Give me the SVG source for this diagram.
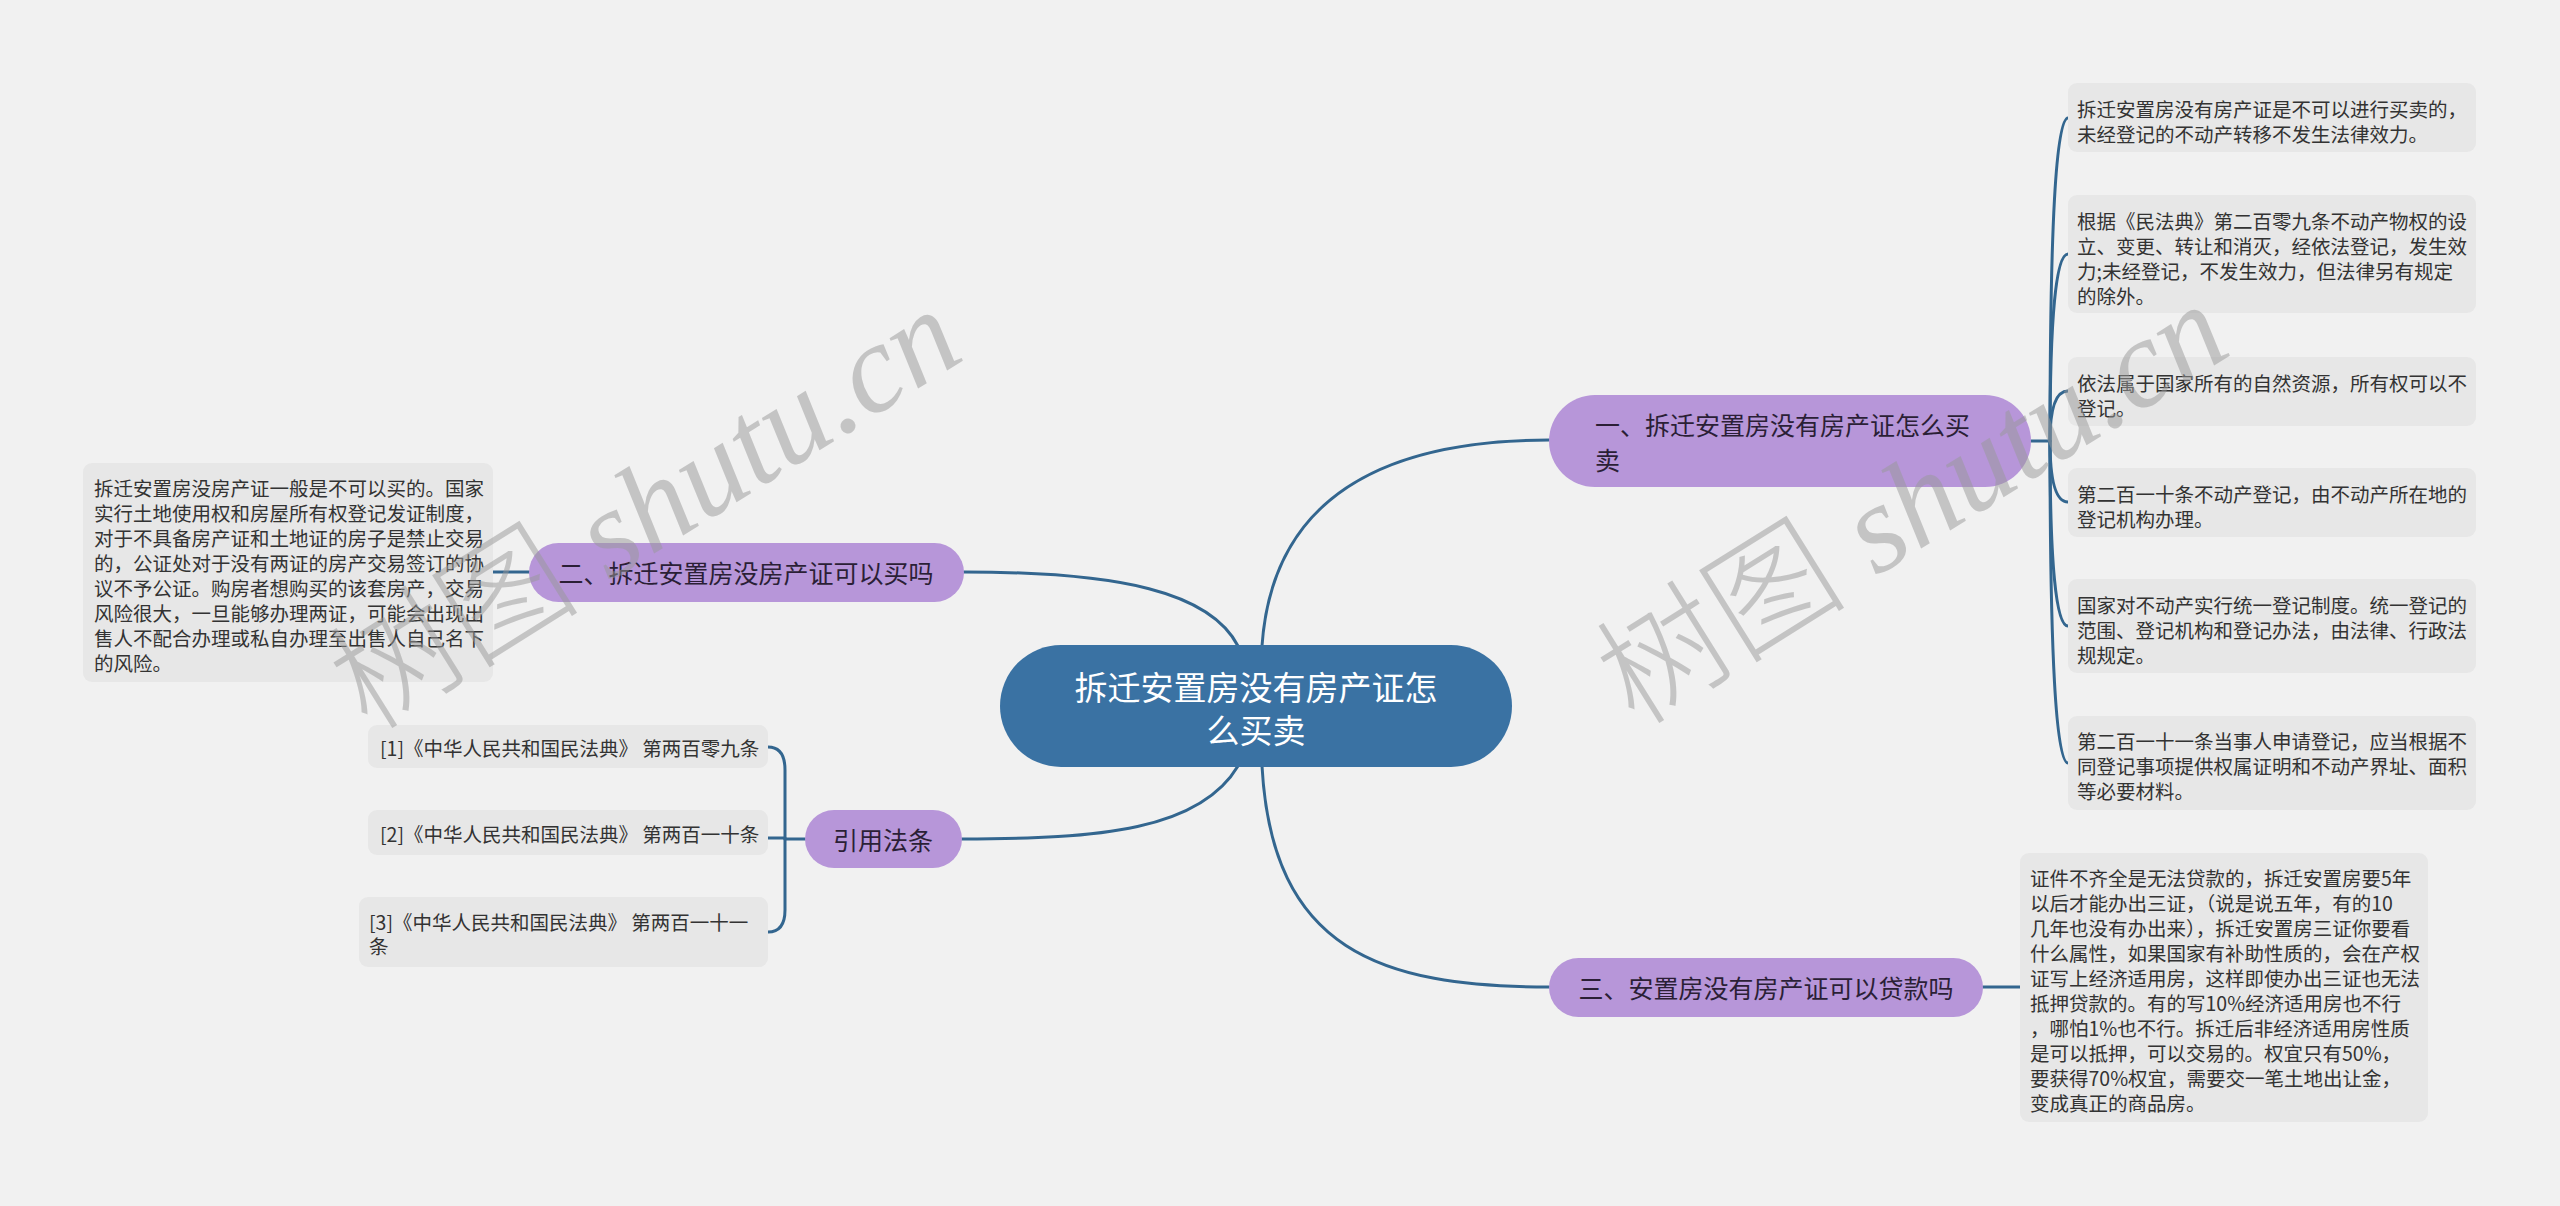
<svg xmlns="http://www.w3.org/2000/svg" width="2560" height="1206" viewBox="0 0 2560 1206">
<style>
.bg{fill:#f1f1f1}
.box{fill:#e7e7e7}
.sub{fill:#b796d9}
.root{fill:#3a72a3}
.conn path{fill:none;stroke:#33668f;stroke-width:3;stroke-linecap:round}
text{font-family:"Noto Sans CJK SC","Noto Sans",sans-serif}
.t{font-size:19.5px;fill:#333;dominant-baseline:central}
.st{font-size:25px;fill:#2b1f36;dominant-baseline:central}
.rt{font-size:33px;fill:#ffffff;dominant-baseline:central;text-anchor:middle}
.wm{font-size:126px;fill:#999;opacity:0.5;text-anchor:middle}
</style>
<rect class="bg" x="0" y="0" width="2560" height="1206"/>
<g id="connectors" class="conn">
<path d="M1262,646 C1272,500 1380,440 1549,440"/>
<path d="M1238,646 C1210,592 1120,572 964,572"/>
<path d="M1238,766 C1200,830 1100,839 962,839"/>
<path d="M1262,766 C1272,950 1380,987 1549,987"/>
<path d="M2031,441 L2050,441"/>
<path d="M2050,441 Q2050,118 2068,118"/>
<path d="M2050,441 Q2050,254 2068,254"/>
<path d="M2050,441 Q2050,391 2068,391"/>
<path d="M2050,441 Q2050,502 2068,502"/>
<path d="M2050,441 Q2050,626 2068,626"/>
<path d="M2050,441 Q2050,763 2068,763"/>
<path d="M529,572 L493,572"/>
<path d="M1983,987 L2020,987"/>
<path d="M805,839 L785,839"/>
<path d="M768,838 L785,838"/>
<path d="M785,839 L785,770 Q785,747 768,747"/>
<path d="M785,839 L785,910 Q785,932 768,932"/>
</g>
<g id="root">
<rect class="root" x="1000" y="645" width="512" height="122" rx="61"/>
<text class="rt" x="1256" y="686">拆迁安置房没有房产证怎</text>
<text class="rt" x="1256" y="729">么买卖</text>
</g>
<g id="n1">
<rect class="sub" x="1549" y="395" width="482" height="92" rx="46"/>
<text class="st" x="1595" y="424">一、拆迁安置房没有房产证怎么买</text>
<text class="st" x="1595" y="459">卖</text>
</g>
<g id="n2">
<rect class="sub" x="529" y="543" width="435" height="59" rx="29.5"/>
<text class="st" x="746" y="572" text-anchor="middle">二、拆迁安置房没房产证可以买吗</text>
</g>
<g id="n3">
<rect class="sub" x="1549" y="958" width="434" height="59" rx="29.5"/>
<text class="st" x="1766" y="987" text-anchor="middle">三、安置房没有房产证可以贷款吗</text>
</g>
<g id="n4">
<rect class="sub" x="805" y="810" width="157" height="58" rx="29"/>
<text class="st" x="883" y="839" text-anchor="middle">引用法条</text>
</g>
<g id="a1">
<rect class="box" x="2068" y="83" width="408" height="69" rx="9"/>
<text class="t" x="2077"><tspan x="2077" y="108">拆迁安置房没有房产证是不可以进行买卖的，</tspan><tspan x="2077" y="133">未经登记的不动产转移不发生法律效力。</tspan></text>
</g>
<g id="a2">
<rect class="box" x="2068" y="195" width="408" height="118" rx="9"/>
<text class="t"><tspan x="2077" y="220">根据《民法典》第二百零九条不动产物权的设</tspan><tspan x="2077" y="245">立、变更、转让和消灭，经依法登记，发生效</tspan><tspan x="2077" y="270">力;未经登记，不发生效力，但法律另有规定</tspan><tspan x="2077" y="295">的除外。</tspan></text>
</g>
<g id="a3">
<rect class="box" x="2068" y="357" width="408" height="69" rx="9"/>
<text class="t"><tspan x="2077" y="382">依法属于国家所有的自然资源，所有权可以不</tspan><tspan x="2077" y="407">登记。</tspan></text>
</g>
<g id="a4">
<rect class="box" x="2068" y="468" width="408" height="69" rx="9"/>
<text class="t"><tspan x="2077" y="493">第二百一十条不动产登记，由不动产所在地的</tspan><tspan x="2077" y="518">登记机构办理。</tspan></text>
</g>
<g id="a5">
<rect class="box" x="2068" y="579" width="408" height="94" rx="9"/>
<text class="t"><tspan x="2077" y="604">国家对不动产实行统一登记制度。统一登记的</tspan><tspan x="2077" y="629">范围、登记机构和登记办法，由法律、行政法</tspan><tspan x="2077" y="654">规规定。</tspan></text>
</g>
<g id="a6">
<rect class="box" x="2068" y="716" width="408" height="94" rx="9"/>
<text class="t"><tspan x="2077" y="740">第二百一十一条当事人申请登记，应当根据不</tspan><tspan x="2077" y="765">同登记事项提供权属证明和不动产界址、面积</tspan><tspan x="2077" y="790">等必要材料。</tspan></text>
</g>
<g id="b1">
<rect class="box" x="83" y="463" width="410" height="219" rx="9"/>
<text class="t"><tspan x="94" y="487">拆迁安置房没房产证一般是不可以买的。国家</tspan><tspan x="94" y="512">实行土地使用权和房屋所有权登记发证制度，</tspan><tspan x="94" y="537">对于不具备房产证和土地证的房子是禁止交易</tspan><tspan x="94" y="562">的，公证处对于没有两证的房产交易签订的协</tspan><tspan x="94" y="587">议不予公证。购房者想购买的该套房产，交易</tspan><tspan x="94" y="612">风险很大，一旦能够办理两证，可能会出现出</tspan><tspan x="94" y="637">售人不配合办理或私自办理至出售人自己名下</tspan><tspan x="94" y="662">的风险。</tspan></text>
</g>
<g id="c1">
<rect class="box" x="2020" y="853" width="408" height="269" rx="9"/>
<text class="t"><tspan x="2030" y="877">证件不齐全是无法贷款的，拆迁安置房要5年</tspan><tspan x="2030" y="902">以后才能办出三证，（说是说五年，有的10</tspan><tspan x="2030" y="927">几年也没有办出来），拆迁安置房三证你要看</tspan><tspan x="2030" y="952">什么属性，如果国家有补助性质的，会在产权</tspan><tspan x="2030" y="977">证写上经济适用房，这样即使办出三证也无法</tspan><tspan x="2030" y="1002">抵押贷款的。有的写10%经济适用房也不行</tspan><tspan x="2030" y="1027">，哪怕1%也不行。拆迁后非经济适用房性质</tspan><tspan x="2030" y="1052">是可以抵押，可以交易的。权宜只有50%，</tspan><tspan x="2030" y="1077">要获得70%权宜，需要交一笔土地出让金，</tspan><tspan x="2030" y="1102">变成真正的商品房。</tspan></text>
</g>
<g id="r1">
<rect class="box" x="368" y="725" width="400" height="43" rx="9"/>
<text class="t" x="380" y="747">[1]《中华人民共和国民法典》 第两百零九条</text>
</g>
<g id="r2">
<rect class="box" x="368" y="810" width="400" height="45" rx="9"/>
<text class="t" x="380" y="833">[2]《中华人民共和国民法典》 第两百一十条</text>
</g>
<g id="r3">
<rect class="box" x="359" y="897" width="409" height="70" rx="9"/>
<text class="t"><tspan x="369" y="921">[3]《中华人民共和国民法典》 第两百一十一</tspan><tspan x="369" y="945">条</tspan></text>
</g>
<g id="watermarks">
<text class="wm" transform="translate(668,545) rotate(-32)"><tspan font-family="Noto Sans CJK SC,sans-serif" font-weight="300">树图</tspan><tspan font-family="Liberation Serif,serif" font-style="italic"> shutu.cn</tspan></text>
<text class="wm" transform="translate(1935,540) rotate(-32)"><tspan font-family="Noto Sans CJK SC,sans-serif" font-weight="300">树图</tspan><tspan font-family="Liberation Serif,serif" font-style="italic"> shutu.cn</tspan></text>
</g>
</svg>
